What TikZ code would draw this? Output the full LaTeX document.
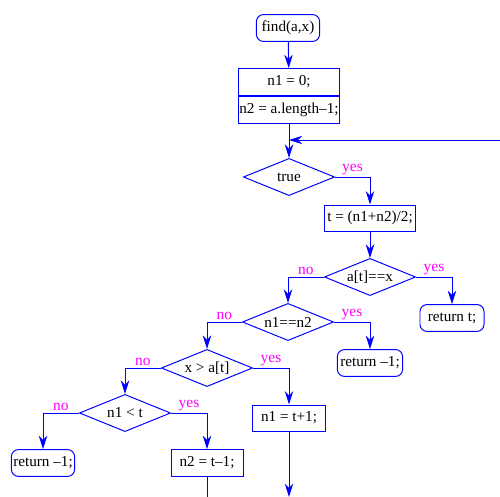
\documentclass[tikz,border=0pt]{standalone}
\usepackage{fontspec}
\setmainfont{Liberation Serif}
\usetikzlibrary{arrows.meta, positioning, shapes.geometric}
\definecolor{flowblue}{RGB}{0,0,255}
\definecolor{flowpink}{RGB}{255,0,255}
\tikzset{%
  arr/.style={draw=flowblue, line width=0.7pt, -{Stealth[length=9.5pt, width=6pt, inset=3pt]}},
  plain/.style={draw=flowblue, line width=0.7pt},
  stmt/.style={draw=flowblue, line width=0.7pt, rectangle, inner sep=0.3pt,
               minimum height=0.67cm, font=\fontsize{10.8}{13}\selectfont},
  term/.style={stmt, rounded corners=5pt},
  test/.style={draw=flowblue, line width=0.7pt, diamond, aspect=2.46, inner sep=0pt,
               minimum width=2.28cm, minimum height=0.93cm, font=\fontsize{10.8}{13}\selectfont},
  lbl/.style={text=flowpink, font=\fontsize{11}{13}\selectfont, inner sep=1pt},
}

\begin{document}
\begin{tikzpicture}[x=0.025cm, y=-0.025cm]
    \useasboundingbox (0,0) rectangle (500,497);

    % start and init
    \node[term, minimum width=1.58cm] (find) at (288,28) {find(a,x)};
    \node[stmt, minimum width=2.52cm] (init1) at (289,82) {n1 = 0;};
    \node[stmt, minimum width=2.52cm, below=0pt of init1] (init2) {n2 = a.length\textendash1;};

    % loop head
    \coordinate (merge) at (289,140);
    \coordinate (loopin) at (500,140);
    \node[test] (true) at (289,177) {true};
    \node[stmt, minimum width=2.28cm, minimum height=0.65cm] (mid) at (370,218) {t = (n1+n2)/2;};

    % tests
    \node[test] (eqx) at (370,277) {a[t]==x};
    \node[term, minimum width=1.6cm] (rett) at (452,318) {return t;};
    \node[test] (same) at (288,322) {n1==n2};
    \node[term, minimum width=1.63cm] (retm) at (370,363) {return \textendash1;};
    \node[test] (gt) at (207,368) {x > a[t]};
    \node[stmt, minimum width=1.83cm, minimum height=0.65cm] (inc) at (289,418) {n1 = t+1;};
    \node[test] (lt) at (125,413) {n1 < t};
    \node[term, minimum width=1.58cm] (retl) at (43,463) {return \textendash1;};
    \node[stmt, minimum width=1.8cm] (dec) at (207,463) {n2 = t\textendash1;};

    % leaving the picture
    \coordinate (out1) at (289,497);
    \coordinate (out2) at (207,497);

    % connectors
    \draw[arr] (find) -- (init1);
    \draw[arr] (init2) -- (true);
    \draw[arr] (loopin) -- (merge);
    \draw[arr] (true.east) -| node[lbl, pos=0.25, above] {yes} (mid.north);
    \draw[arr] (mid) -- (eqx);
    \draw[arr] (eqx.east) -| node[lbl, pos=0.25, above] {yes} (rett.north);
    \draw[arr] (eqx.west) -| node[lbl, pos=0.25, above] {no} (same.north);
    \draw[arr] (same.east) -| node[lbl, pos=0.25, above] {yes} (retm.north);
    \draw[arr] (same.west) -| node[lbl, pos=0.25, above] {no} (gt.north);
    \draw[arr] (gt.east) -| node[lbl, pos=0.25, above] {yes} (inc.north);
    \draw[arr] (gt.west) -| node[lbl, pos=0.25, above] {no} (lt.north);
    \draw[arr] (lt.east) -| node[lbl, pos=0.25, above] {yes} (dec.north);
    \draw[arr] (lt.west) -| node[lbl, pos=0.25, above] {no} (retl.north);
    \draw[arr] (inc) -- (out1);
    \draw[plain] (dec) -- (out2);

\end{tikzpicture}
\end{document}
